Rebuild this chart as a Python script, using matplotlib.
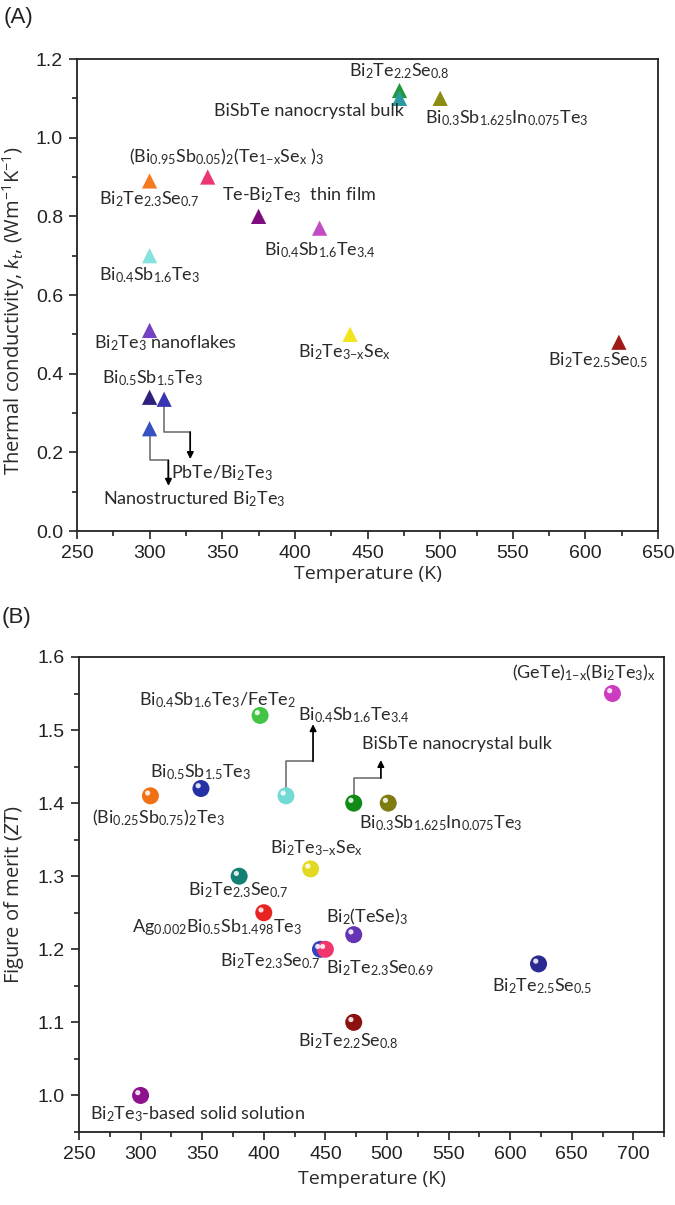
import matplotlib
matplotlib.use("Agg")
import matplotlib.pyplot as plt
from matplotlib.ticker import MultipleLocator
import matplotlib.transforms as mtransforms

plt.rcParams['font.family'] = ['Lato', 'DejaVu Sans']
plt.rcParams['mathtext.fontset'] = 'custom'
plt.rcParams['mathtext.rm'] = 'Lato'
plt.rcParams['mathtext.it'] = 'Lato:italic'
plt.rcParams['mathtext.bf'] = 'Lato:bold'
plt.rcParams['mathtext.default'] = 'regular'

# ---------------- Panel A data ----------------
a_labels = [
    r'Bi$_2$Te$_{2.2}$Se$_{0.8}$',
    'BiSbTe nanocrystal bulk',
    r'Bi$_{0.3}$Sb$_{1.625}$In$_{0.075}$Te$_3$',
    r'(Bi$_{0.95}$Sb$_{0.05}$)$_2$(Te$_{1\mathrm{-}x}$Se$_x$ )$_3$',
    r'Bi$_2$Te$_{2.3}$Se$_{0.7}$',
    r'Te-Bi$_2$Te$_3$  thin film',
    r'Bi$_{0.4}$Sb$_{1.6}$Te$_{3.4}$',
    r'Bi$_{0.4}$Sb$_{1.6}$Te$_3$',
    r'Bi$_2$Te$_3$ nanoflakes',
    r'Bi$_2$Te$_{3\mathrm{-}x}$Se$_x$',
    r'Bi$_2$Te$_{2.5}$Se$_{0.5}$',
    r'Bi$_{0.5}$Sb$_{1.5}$Te$_3$',
    r'PbTe/Bi$_2$Te$_3$',
    r'Nanostructured Bi$_2$Te$_3$',
]
a_temp = [472, 472, 500, 340, 300, 375, 417, 300, 300, 438, 623, 300, 310, 300]
a_kappa = [1.12, 1.10, 1.10, 0.90, 0.89, 0.80, 0.77, 0.70, 0.51, 0.50, 0.48, 0.34, 0.335, 0.26]
a_colors = ['#1e9a3c', '#2a9aa0', '#8c8c12', '#ec3672', '#f47a22', '#7e0c7e',
            '#c24cc4', '#86e2de', '#7440c4', '#f2e41e', '#a01a1a', '#30207e',
            '#3a36b2', '#3452c2']
# label anchor (centre) positions, layout only
a_lab_x = [472, 410, 546, 353, 300, 403, 417, 300, 311, 434, 609, 302, 350, 331]
a_lab_y = [1.168, 1.068, 1.05, 0.951, 0.844, 0.854, 0.714, 0.65, 0.4765, 0.455, 0.434, 0.3875, 0.146, 0.082]
# elbow arrows: (index of point, elbow y, end x, end y)
a_arrows = [(13, 0.18, 313, 0.115), (12, 0.252, 328, 0.183)]

# ---------------- Panel B data ----------------
b_labels = [
    r'(GeTe)$_{1\mathrm{-}x}$(Bi$_2$Te$_3$)$_x$',
    r'Bi$_{0.4}$Sb$_{1.6}$Te$_3$/FeTe$_2$',
    r'Bi$_{0.4}$Sb$_{1.6}$Te$_{3.4}$',
    r'Bi$_{0.5}$Sb$_{1.5}$Te$_3$',
    r'(Bi$_{0.25}$Sb$_{0.75}$)$_2$Te$_3$',
    'BiSbTe nanocrystal bulk',
    r'Bi$_{0.3}$Sb$_{1.625}$In$_{0.075}$Te$_3$',
    r'Bi$_2$Te$_{3\mathrm{-}x}$Se$_x$',
    r'Bi$_2$Te$_{2.3}$Se$_{0.7}$',
    r'Ag$_{0.002}$Bi$_{0.5}$Sb$_{1.498}$Te$_3$',
    r'Bi$_2$(TeSe)$_3$',
    r'Bi$_2$Te$_{2.3}$Se$_{0.7}$',
    r'Bi$_2$Te$_{2.3}$Se$_{0.69}$',
    r'Bi$_2$Te$_{2.5}$Se$_{0.5}$',
    r'Bi$_2$Te$_{2.2}$Se$_{0.8}$',
    r'Bi$_2$Te$_3$-based solid solution',
]
b_temp = [683, 397, 418, 349, 308, 473, 501, 438, 380, 400, 473, 446, 450, 623, 473, 300]
b_zt = [1.55, 1.52, 1.41, 1.42, 1.41, 1.40, 1.40, 1.31, 1.30, 1.25, 1.22, 1.20, 1.20, 1.18, 1.10, 1.00]
b_colors = ['#cc3cc0', '#44c444', '#72dad6', '#2630a6', '#f07014', '#128a16',
            '#7e7c10', '#e2da22', '#128072', '#e82422', '#6434b4', '#3442c4',
            '#f0346c', '#2a2a92', '#8c1212', '#8e128e']
b_lab_x = [660, 362, 473, 349, 315, 557, 544, 443, 379, 362, 484, 405, 494, 626, 469, 346]
b_lab_y = [1.578, 1.541, 1.521, 1.443, 1.38, 1.481, 1.372, 1.338, 1.281, 1.231, 1.245, 1.184, 1.1745, 1.150, 1.074, 0.974]
b_arrows = [(2, 1.457, 440, 1.508), (5, 1.434, 495, 1.459)]

LABEL_FS = 13
TICK_FS = 14
AXLAB_FAMILY = ['Open Sans', 'DejaVu Sans']
TEXT_COLOR = '#2a2a2a'

fig = plt.figure(figsize=(6.75, 12.05), dpi=100)
axA = fig.add_axes([0.114, 0.5593, 0.975 - 0.114, 0.951 - 0.5593])
axB = fig.add_axes([0.117, 0.0606, 0.984 - 0.117, 0.4548 - 0.0606])


def style_axes(ax):
    for s in ax.spines.values():
        s.set_linewidth(1.3)
        s.set_color('#222222')
    ax.tick_params(which='both', direction='out', top=False, right=False,
                   width=1.2, color='#222222')
    ax.tick_params(which='major', length=6, labelsize=TICK_FS, pad=4)
    ax.tick_params(which='minor', length=3.5)
    for lab in ax.get_xticklabels() + ax.get_yticklabels():
        lab.set_fontfamily(['Liberation Sans', 'DejaVu Sans'])
        lab.set_color('#222222')


def draw_arrows(ax, xs, ys, arrows):
    for idx, ey, ex, endy in arrows:
        x0, y0 = xs[idx], ys[idx]
        ax.plot([x0, x0, ex, ex], [y0, ey, ey, (ey + endy) / 2 + (endy - ey) * 0.3],
                color='#666666', lw=1.1, zorder=1)
        ax.annotate('', xy=(ex, endy), xytext=(ex, ey),
                    arrowprops=dict(arrowstyle='-|>', color='black', lw=1.1,
                                    mutation_scale=10, shrinkA=0, shrinkB=0),
                    zorder=1)


# ---- Panel A ----
ax = axA
draw_arrows(ax, a_temp, a_kappa, a_arrows)
ax.scatter(a_temp, a_kappa, marker='^', s=120, c=a_colors, edgecolors='none', zorder=3)
for lab, lx, ly in zip(a_labels, a_lab_x, a_lab_y):
    ax.text(lx, ly, lab, ha='center', va='center', fontsize=LABEL_FS, color=TEXT_COLOR)
ax.set_xlim(250, 650)
ax.set_ylim(0.0, 1.2)
ax.xaxis.set_major_locator(MultipleLocator(50))
ax.xaxis.set_minor_locator(MultipleLocator(25))
ax.yaxis.set_major_locator(MultipleLocator(0.2))
ax.yaxis.set_minor_locator(MultipleLocator(0.1))
ax.yaxis.set_major_formatter(matplotlib.ticker.FormatStrFormatter('%.1f'))
style_axes(ax)
ax.set_xlabel('Temperature (K)', fontsize=14, color=TEXT_COLOR, labelpad=2,
              family=AXLAB_FAMILY)
ax.set_ylabel(r'Thermal conductivity, $\mathit{k}_{\mathit{t}}$, (Wm$^{-1}$K$^{-1}$)',
              fontsize=14.5, color=TEXT_COLOR, family=AXLAB_FAMILY)
ax.yaxis.set_label_coords(-0.086, 0.466)

# ---- Panel B ----
ax = axB
draw_arrows(ax, b_temp, b_zt, b_arrows)
ax.scatter(b_temp, b_zt, marker='o', s=150, c=b_colors, edgecolors='none', zorder=3)
hl = mtransforms.offset_copy(ax.transData, fig=fig, x=-2.0, y=2.0, units='points')
ax.scatter(b_temp, b_zt, marker='o', s=14, c='white', alpha=0.85,
           edgecolors='none', zorder=4, transform=hl)
for lab, lx, ly in zip(b_labels, b_lab_x, b_lab_y):
    ax.text(lx, ly, lab, ha='center', va='center', fontsize=LABEL_FS, color=TEXT_COLOR)
ax.set_xlim(250, 725)
ax.set_ylim(0.95, 1.6)
ax.xaxis.set_major_locator(MultipleLocator(50))
ax.xaxis.set_minor_locator(MultipleLocator(25))
ax.yaxis.set_major_locator(MultipleLocator(0.1))
ax.yaxis.set_minor_locator(MultipleLocator(0.05))
ax.yaxis.set_major_formatter(matplotlib.ticker.FormatStrFormatter('%.1f'))
style_axes(ax)
ax.set_xlabel('Temperature (K)', fontsize=14, color=TEXT_COLOR, labelpad=5,
              family=AXLAB_FAMILY)
ax.set_ylabel(r'Figure of merit ($\mathit{ZT}$)', fontsize=14.5, color=TEXT_COLOR,
              family=AXLAB_FAMILY)
ax.yaxis.set_label_coords(-0.09, 0.5)

fig.text(0.006, 1 - 18 / 1205, '(A)', fontsize=16, va='center', ha='left',
         family=['Liberation Sans', 'DejaVu Sans'], color='#222222')
fig.text(0.003, 1 - 617 / 1205, '(B)', fontsize=16, va='center', ha='left',
         family=['Liberation Sans', 'DejaVu Sans'], color='#222222')

fig.savefig('out.png', dpi=100)
